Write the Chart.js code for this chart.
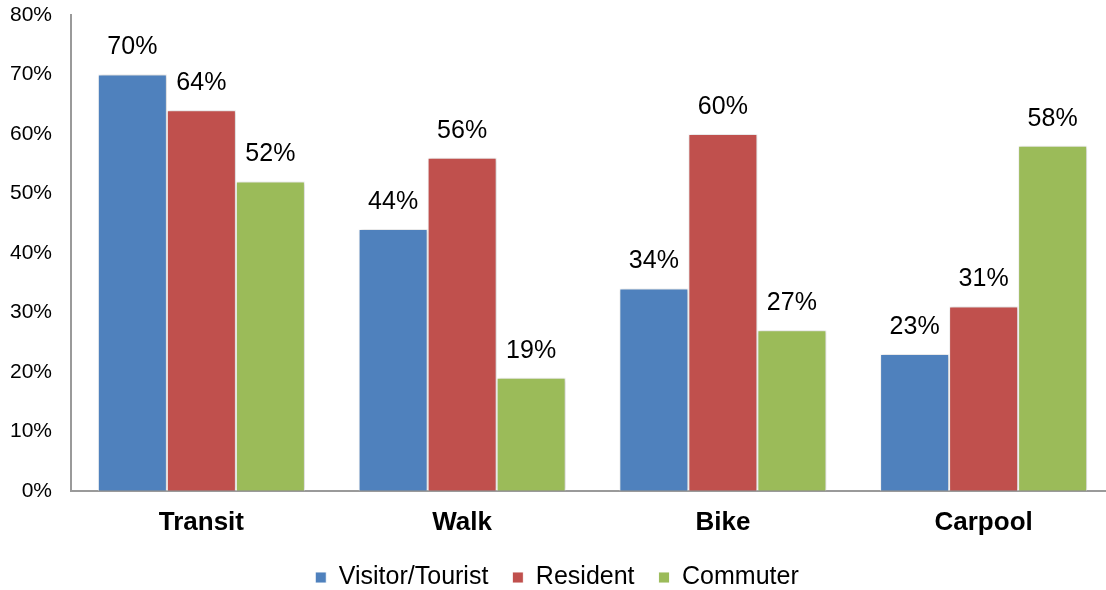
<!DOCTYPE html>
<html>
<head>
<meta charset="utf-8">
<script src="https://cdn.jsdelivr.net/npm/chart.js@4.4.1/dist/chart.umd.min.js"></script>
<style>
  html, body { margin: 0; padding: 0; background: #fff; overflow: hidden; }
  #wrap { position: relative; width: 1114px; height: 613px; }
</style>
</head>
<body>
<div id="wrap"><canvas id="c"></canvas></div>
<script>
const categories = ['Transit', 'Walk', 'Bike', 'Carpool'];
const visitorTourist = [70, 44, 34, 23];
const resident = [64, 56, 60, 31];
const commuter = [52, 19, 27, 58];
const seriesNames = ['Visitor/Tourist', 'Resident', 'Commuter'];
const seriesColors = ['#4F81BD', '#C0504D', '#9BBB59'];
const yTickMax = 80;
const yTickStep = 10;

const FONT = '"Liberation Sans", Arial, sans-serif';

const shadowPlugin = {
  id: 'barShadow',
  beforeDatasetsDraw(chart) {
    const ctx = chart.ctx;
    ctx.save();
    ctx.shadowColor = 'rgba(0,0,0,0.22)';
    ctx.shadowBlur = 4;
    ctx.shadowOffsetX = 1;
    ctx.shadowOffsetY = 0;
  },
  afterDatasetsDraw(chart) {
    chart.ctx.restore();
  }
};

const labelPlugin = {
  id: 'valueLabels',
  afterDatasetsDraw(chart) {
    const ctx = chart.ctx;
    ctx.save();
    ctx.shadowColor = 'transparent';
    ctx.font = '25px ' + FONT;
    ctx.fillStyle = '#000';
    ctx.textAlign = 'center';
    ctx.textBaseline = 'middle';
    chart.data.datasets.forEach((ds, di) => {
      const meta = chart.getDatasetMeta(di);
      meta.data.forEach((el, i) => {
        ctx.fillText(ds.data[i] + '%', el.x, el.y - 27);
      });
    });
    ctx.restore();
  }
};

const legendShift = {
  id: 'legendShift',
  afterLayout(chart) {
    const lg = chart.legend;
    if (lg) { lg.top -= 13; lg.bottom -= 13; }
  }
};

new Chart(document.getElementById('c'), {
  type: 'bar',
  data: {
    labels: categories,
    datasets: [
      { label: seriesNames[0], data: visitorTourist, backgroundColor: seriesColors[0] },
      { label: seriesNames[1], data: resident, backgroundColor: seriesColors[1] },
      { label: seriesNames[2], data: commuter, backgroundColor: seriesColors[2] }
    ].map(d => Object.assign(d, {
      borderColor: 'rgba(255,255,255,0.9)',
      borderWidth: 1,
      categoryPercentage: 0.794,
      barPercentage: 1
    }))
  },
  options: {
    responsive: true,
    maintainAspectRatio: false,
    animation: false,
    layout: { padding: { left: 0, right: 0, top: 15, bottom: 0 } },
    plugins: {
      legend: {
        position: 'bottom',
        align: 'center',
        labels: {
          boxWidth: 11,
          boxHeight: 11,
          padding: 24,
          color: '#000',
          font: { family: FONT, size: 25 }
        }
      },
      tooltip: { enabled: false }
    },
    scales: {
      x: {
        grid: { display: false, drawTicks: false },
        border: { display: true, color: '#9a9a9a', width: 2 },
        ticks: {
          color: '#000',
          padding: 16,
          font: { family: FONT, size: 26, weight: 'bold' }
        }
      },
      y: {
        min: 0,
        max: yTickMax,
        grid: { display: false, drawTicks: false },
        border: { display: true, color: '#9a9a9a', width: 2 },
        afterFit(scale) {
          scale.width = 71;
          scale.paddingTop = 0;
          scale.paddingBottom = 0;
        },
        ticks: {
          stepSize: yTickStep,
          color: '#000',
          padding: 19,
          font: { family: FONT, size: 21 },
          callback: v => v + '%'
        }
      }
    }
  },
  plugins: [shadowPlugin, labelPlugin, legendShift]
});
</script>
</body>
</html>
